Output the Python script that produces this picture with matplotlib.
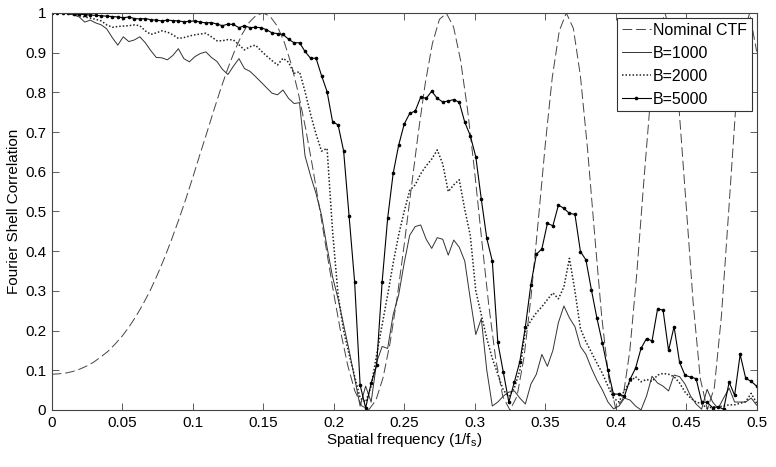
import numpy as np
import matplotlib
matplotlib.use("Agg")
import matplotlib.pyplot as plt
from matplotlib.ticker import FormatStrFormatter, MultipleLocator

# FSC curves are sampled on 129 shells from 0 to 0.5 (1/fs)
freq = np.linspace(0, 0.5, 129)

fsc_b1000 = [
    1.0, 1.0, 1.0, 0.998, 0.995, 0.990, 0.977, 0.982, 0.975, 0.970,
    0.960, 0.938, 0.919, 0.940, 0.928, 0.932, 0.940, 0.925, 0.905, 0.888,
    0.887, 0.882, 0.893, 0.910, 0.885, 0.877, 0.890, 0.898, 0.902, 0.888,
    0.878, 0.858, 0.845, 0.866, 0.885, 0.860, 0.853, 0.840, 0.826, 0.812,
    0.798, 0.794, 0.806, 0.785, 0.772, 0.774, 0.640, 0.590, 0.545, 0.490,
    0.410, 0.335, 0.280, 0.215, 0.150, 0.080, 0.010, 0.060, 0.020, 0.120,
    0.160, 0.155, 0.240, 0.290, 0.370, 0.440, 0.462, 0.466, 0.430, 0.407,
    0.434, 0.430, 0.390, 0.428, 0.410, 0.375, 0.280, 0.190, 0.230, 0.100,
    0.010, 0.020, 0.035, 0.045, 0.048, 0.030, 0.015, 0.065, 0.090, 0.140,
    0.110, 0.150, 0.220, 0.262, 0.232, 0.210, 0.160, 0.140, 0.105, 0.075,
    0.050, 0.020, 0.003, 0.010, 0.030, 0.025, 0.010, 0.000, 0.035, 0.085,
    0.068, 0.060, 0.048, 0.088, 0.084, 0.065, 0.035, 0.015, 0.002, 0.052,
    0.020, 0.004, 0.030, 0.055, 0.020, 0.020, 0.020, 0.030, 0.012,
]

fsc_b2000 = [
    1.0, 1.0, 1.0, 0.999, 0.997, 0.993, 0.990, 0.987, 0.984, 0.980,
    0.970, 0.964, 0.966, 0.967, 0.968, 0.970, 0.968, 0.955, 0.946, 0.950,
    0.955, 0.952, 0.945, 0.936, 0.938, 0.942, 0.945, 0.947, 0.949, 0.940,
    0.930, 0.930, 0.933, 0.932, 0.920, 0.907, 0.915, 0.919, 0.905, 0.892,
    0.880, 0.869, 0.886, 0.876, 0.848, 0.852, 0.802, 0.745, 0.695, 0.652,
    0.659, 0.450, 0.290, 0.200, 0.140, 0.085, 0.030, 0.020, 0.060, 0.139,
    0.215, 0.290, 0.370, 0.441, 0.500, 0.553, 0.567, 0.595, 0.615, 0.632,
    0.655, 0.620, 0.550, 0.567, 0.580, 0.505, 0.440, 0.300, 0.240, 0.180,
    0.130, 0.090, 0.050, 0.034, 0.055, 0.100, 0.200, 0.225, 0.245, 0.260,
    0.278, 0.295, 0.280, 0.310, 0.382, 0.300, 0.205, 0.172, 0.145, 0.118,
    0.092, 0.060, 0.030, 0.020, 0.050, 0.070, 0.084, 0.071, 0.077, 0.072,
    0.088, 0.092, 0.090, 0.084, 0.068, 0.045, 0.030, 0.020, 0.016, 0.004,
    0.008, 0.008, 0.010, 0.013, 0.013, 0.017, 0.021, 0.042, 0.017,
]

fsc_b5000 = [
    1.0, 1.0, 1.0, 0.999, 0.998, 0.997, 0.996, 0.995, 0.994, 0.993,
    0.992, 0.991, 0.990, 0.988, 0.990, 0.986, 0.985, 0.986, 0.983, 0.982,
    0.980, 0.982, 0.981, 0.980, 0.978, 0.979, 0.980, 0.977, 0.975, 0.976,
    0.972, 0.968, 0.972, 0.971, 0.963, 0.968, 0.963, 0.964, 0.963, 0.958,
    0.950, 0.948, 0.946, 0.934, 0.925, 0.925, 0.903, 0.886, 0.886, 0.842,
    0.802, 0.726, 0.718, 0.653, 0.489, 0.323, 0.063, 0.005, 0.067, 0.113,
    0.323, 0.483, 0.596, 0.667, 0.720, 0.747, 0.753, 0.788, 0.785, 0.803,
    0.785, 0.776, 0.778, 0.782, 0.775, 0.725, 0.691, 0.638, 0.531, 0.432,
    0.375, 0.170, 0.095, 0.020, 0.070, 0.122, 0.209, 0.316, 0.392, 0.406,
    0.470, 0.464, 0.516, 0.508, 0.495, 0.493, 0.399, 0.378, 0.302, 0.231,
    0.168, 0.100, 0.040, 0.040, 0.035, 0.077, 0.105, 0.155, 0.180, 0.174,
    0.254, 0.252, 0.150, 0.210, 0.120, 0.087, 0.083, 0.079, 0.021, 0.019,
    0.006, 0.008, 0.002, 0.070, 0.037, 0.140, 0.080, 0.072, 0.060,
]

# nominal CTF read every 0.005
ctf_freq = np.linspace(0, 0.5, 101)
ctf = [
    0.090, 0.091, 0.093, 0.097, 0.103, 0.111, 0.121, 0.134, 0.148, 0.166,
    0.186, 0.210, 0.237, 0.268, 0.302, 0.341, 0.383, 0.429, 0.478, 0.530,
    0.585, 0.642, 0.698, 0.755, 0.810, 0.861, 0.907, 0.946, 0.976, 0.994,
    1.000, 0.991, 0.967, 0.926, 0.870, 0.797, 0.711, 0.613, 0.508, 0.400,
    0.294, 0.196, 0.112, 0.048, 0.010, 0.001, 0.025, 0.081, 0.169, 0.283,
    0.416, 0.558, 0.698, 0.824, 0.923, 0.984, 0.999, 0.965, 0.881, 0.755,
    0.599, 0.428, 0.264, 0.126, 0.033, 0.000, 0.034, 0.133, 0.286, 0.473,
    0.666, 0.837, 0.955, 1.000, 0.961, 0.841, 0.659, 0.445, 0.239, 0.081,
    0.004, 0.027, 0.148, 0.345, 0.578, 0.798, 0.950, 1.000, 0.931, 0.756,
    0.515, 0.268, 0.079, 0.001, 0.057, 0.237, 0.493, 0.755, 0.942, 0.999,
    0.903,
]

plt.rcParams['font.family'] = ['Liberation Sans', 'DejaVu Sans']
plt.rcParams['font.size'] = 11

fig = plt.figure(figsize=(7.76, 4.67), dpi=100)
ax = fig.add_axes([0.0666, 0.1221, 0.9085, 0.8501])

ax.plot(ctf_freq, ctf, color='#444444', linestyle=(0, (10, 4)), linewidth=0.7,
        label='Nominal CTF')
ax.plot(freq, fsc_b1000, color='#333333', linestyle='-', linewidth=0.7,
        label='B=1000')
ax.plot(freq, fsc_b2000, color='#222222', linestyle=(0, (1, 1.3)), linewidth=1.1,
        label='B=2000')
ax.plot(freq, fsc_b5000, color='black', linestyle='-', linewidth=0.8,
        marker='.', markersize=3.2, label='B=5000')

ax.set_xlim(0, 0.5)
ax.set_ylim(0, 1)
ax.xaxis.set_major_locator(MultipleLocator(0.05))
ax.yaxis.set_major_locator(MultipleLocator(0.1))
ax.xaxis.set_major_formatter(FormatStrFormatter('%g'))
ax.yaxis.set_major_formatter(FormatStrFormatter('%g'))
ax.tick_params(direction='in', top=True, right=True, length=5, width=0.6,
               color='#444444', labelsize=11, pad=4)
for side in ax.spines.values():
    side.set_linewidth(0.8)
    side.set_color('#444444')

ax.set_xlabel('Spatial frequency (1/f$_\\mathregular{s}$)', fontsize=11, labelpad=1)
ax.set_ylabel('Fourier Shell Correlation', fontsize=11, labelpad=3)

leg = ax.legend(loc='upper right', fontsize=11.5, frameon=True, fancybox=False,
                edgecolor='#333333', framealpha=1, borderaxespad=0.3,
                handlelength=1.8, handletextpad=0.15, labelspacing=0.5,
                borderpad=0.3)
leg.get_frame().set_linewidth(0.8)

fig.savefig('out.png', dpi=100)
